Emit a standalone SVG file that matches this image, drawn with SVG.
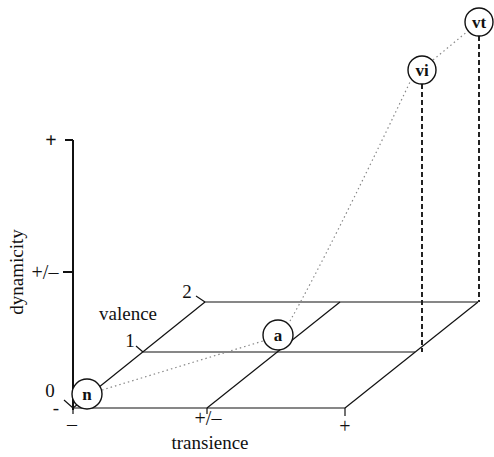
<svg xmlns="http://www.w3.org/2000/svg" width="494" height="457" viewBox="0 0 494 457">
<style>
text{font-family:"Liberation Serif","Times New Roman",serif;font-size:19px;fill:#111}
.s{font-size:20px}
.nl{font-size:17px;font-weight:bold}
.l{stroke:#111;stroke-width:1.2;fill:none}
.ax{stroke:#111;stroke-width:2;fill:none}
.d{stroke:#222;stroke-width:2;stroke-dasharray:5 3;fill:none}
.dot{stroke:#888;stroke-width:1.2;stroke-dasharray:1.5 3;fill:none}
.c{fill:#fff;stroke:#111;stroke-width:1.4}
</style>
<rect width="494" height="457" fill="#fff"/>
<g id="connectors">
<line class="ax" x1="73" y1="140" x2="73" y2="410"/>
<line class="ax" x1="65" y1="140" x2="73" y2="140"/>
<line class="ax" x1="63" y1="272" x2="73" y2="272"/>
<line class="l" x1="73" y1="408" x2="345" y2="408"/>
<line class="l" x1="143" y1="352" x2="415" y2="352"/>
<line class="l" x1="205" y1="302" x2="478" y2="302"/>
<line class="l" x1="73" y1="408" x2="205" y2="302"/>
<line class="l" x1="207" y1="408" x2="340" y2="302"/>
<line class="l" x1="345" y1="408" x2="478" y2="302"/>
<line class="l" x1="196" y1="296" x2="205" y2="302"/>
<line class="l" x1="136" y1="346" x2="143" y2="352"/>
<line class="l" x1="64" y1="400" x2="73" y2="408"/>
<line class="l" x1="207" y1="408" x2="207" y2="414"/>
<line class="l" x1="345" y1="408" x2="345" y2="416"/>
<line class="l" x1="73" y1="408" x2="73" y2="414"/>
<line class="d" x1="422" y1="84" x2="422" y2="352"/>
<line class="d" x1="479" y1="36" x2="479" y2="302"/>
<path class="dot" d="M102 390 L263 341"/>
<path class="dot" d="M290 321 Q330 250 410 82"/>
<path class="dot" d="M433 60 L468 31"/>
</g>
<g id="node-n"><circle class="c" cx="87" cy="394" r="15"/><text class="nl" x="87" y="400" text-anchor="middle">n</text></g>
<g id="node-a"><circle class="c" cx="278" cy="335" r="15"/><text class="nl" x="278" y="341" text-anchor="middle">a</text></g>
<g id="node-vi"><circle class="c" cx="422" cy="70" r="14"/><text class="nl" x="422" y="76" text-anchor="middle">vi</text></g>
<g id="node-vt"><circle class="c" cx="479" cy="22" r="14"/><text class="nl" x="479" y="28" text-anchor="middle">vt</text></g>
<g id="labels">
<text class="s" x="51" y="147" text-anchor="middle" font-weight="bold">+</text>
<text class="s" x="45" y="279" text-anchor="middle">+/–</text>
<text transform="translate(23,272) rotate(-90)" text-anchor="middle">dynamicity</text>
<text x="50" y="397" text-anchor="middle">0</text>
<text x="56" y="414" text-anchor="middle" font-size="14">-</text>
<text class="s" x="72" y="431" text-anchor="middle">–</text>
<text class="s" x="208" y="425" text-anchor="middle">+/–</text>
<text x="210" y="449" text-anchor="middle" font-size="18">transience</text>
<text class="s" x="345" y="433" text-anchor="middle">+</text>
<text x="128" y="320" text-anchor="middle">valence</text>
<text x="187" y="298" text-anchor="middle">2</text>
<text x="130" y="347" text-anchor="middle">1</text>
</g>
</svg>
